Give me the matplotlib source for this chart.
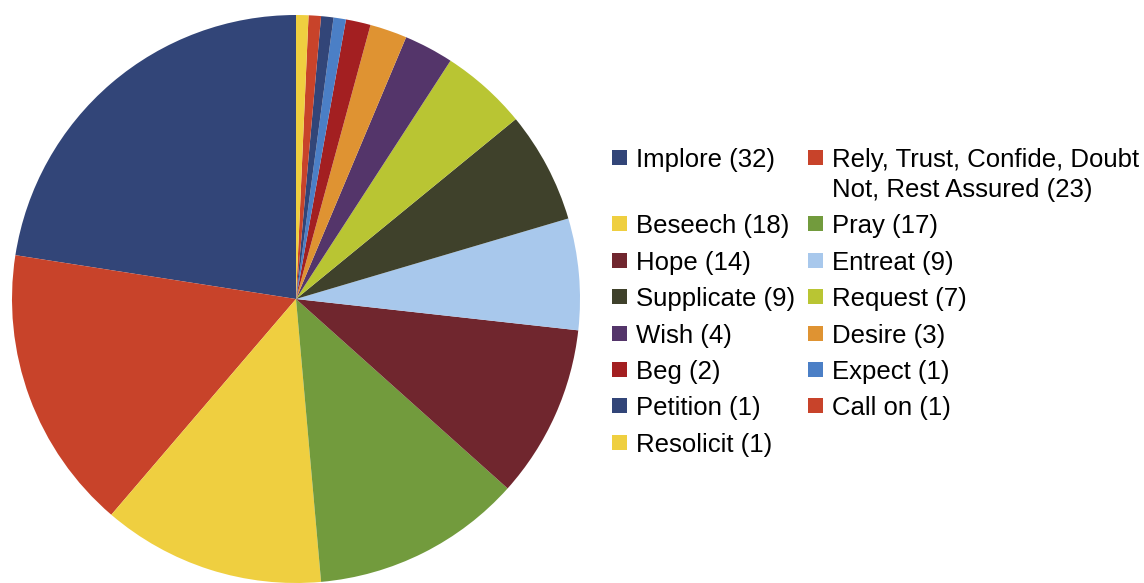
"""Pie chart of request-verb frequencies with a two-column legend."""

import matplotlib

matplotlib.use("Agg")

import matplotlib.pyplot as plt
from matplotlib.patches import Rectangle


LABELS = [
    "Implore",
    "Rely, Trust, Confide, Doubt\nNot, Rest Assured",
    "Beseech",
    "Pray",
    "Hope",
    "Entreat",
    "Supplicate",
    "Request",
    "Wish",
    "Desire",
    "Beg",
    "Expect",
    "Petition",
    "Call on",
    "Resolicit",
]
COUNTS = [32, 23, 18, 17, 14, 9, 9, 7, 4, 3, 2, 1, 1, 1, 1]
COLORS = [
    "#324578",
    "#c8432a",
    "#efcf40",
    "#729b3d",
    "#70262e",
    "#a8c8ec",
    "#3f412b",
    "#b9c533",
    "#54356a",
    "#df9332",
    "#a31f21",
    "#4b7fc6",
    "#324578",
    "#c8432a",
    "#efcf40",
]

W, H = 1144, 583
FONT = 18.5


def px(x, y):
    """Pixel position (from top-left) to figure fraction."""
    return x / W, 1 - y / H


def draw_legend(fig):
    col_x = [612, 808]
    text_off = 24
    box = 15
    pitch = 36.4
    line_gap = 30
    y = 157.5
    for row in range(0, len(LABELS), 2):
        nlines = 1
        for col, idx in enumerate(range(row, min(row + 2, len(LABELS)))):
            label = LABELS[idx]
            x0 = col_x[col]
            n = label.count("\n") + 1
            bx, by = px(x0, y + box / 2)
            fig.patches.append(
                Rectangle((bx, by), box / W, box / H, transform=fig.transFigure,
                          facecolor=COLORS[idx], edgecolor="none")
            )
            # baseline alignment refers to the last line of the label
            tx, ty = px(x0 + text_off, y + 9.5 + (n - 1) * line_gap)
            fig.text(tx, ty, f"{label} ({COUNTS[idx]})", ha="left", va="baseline",
                     fontsize=FONT, color="black", linespacing=1.3)
            nlines = max(nlines, n)
        y += pitch + (nlines - 1) * line_gap


def main():
    plt.rcParams["font.family"] = ["Liberation Sans", "DejaVu Sans"]
    fig = plt.figure(figsize=(W / 100, H / 100), dpi=100)

    cx, cy, r = 296, 299, 284
    ax = fig.add_axes([(cx - r) / W, (H - cy - r) / H, 2 * r / W, 2 * r / H])
    ax.pie(COUNTS, colors=COLORS, startangle=90, counterclock=True,
           wedgeprops={"linewidth": 0})
    ax.set_xlim(-1, 1)
    ax.set_ylim(-1, 1)
    ax.set_aspect("equal")
    ax.axis("off")

    draw_legend(fig)
    fig.savefig("out.png", dpi=100, facecolor="white")


if __name__ == "__main__":
    main()
